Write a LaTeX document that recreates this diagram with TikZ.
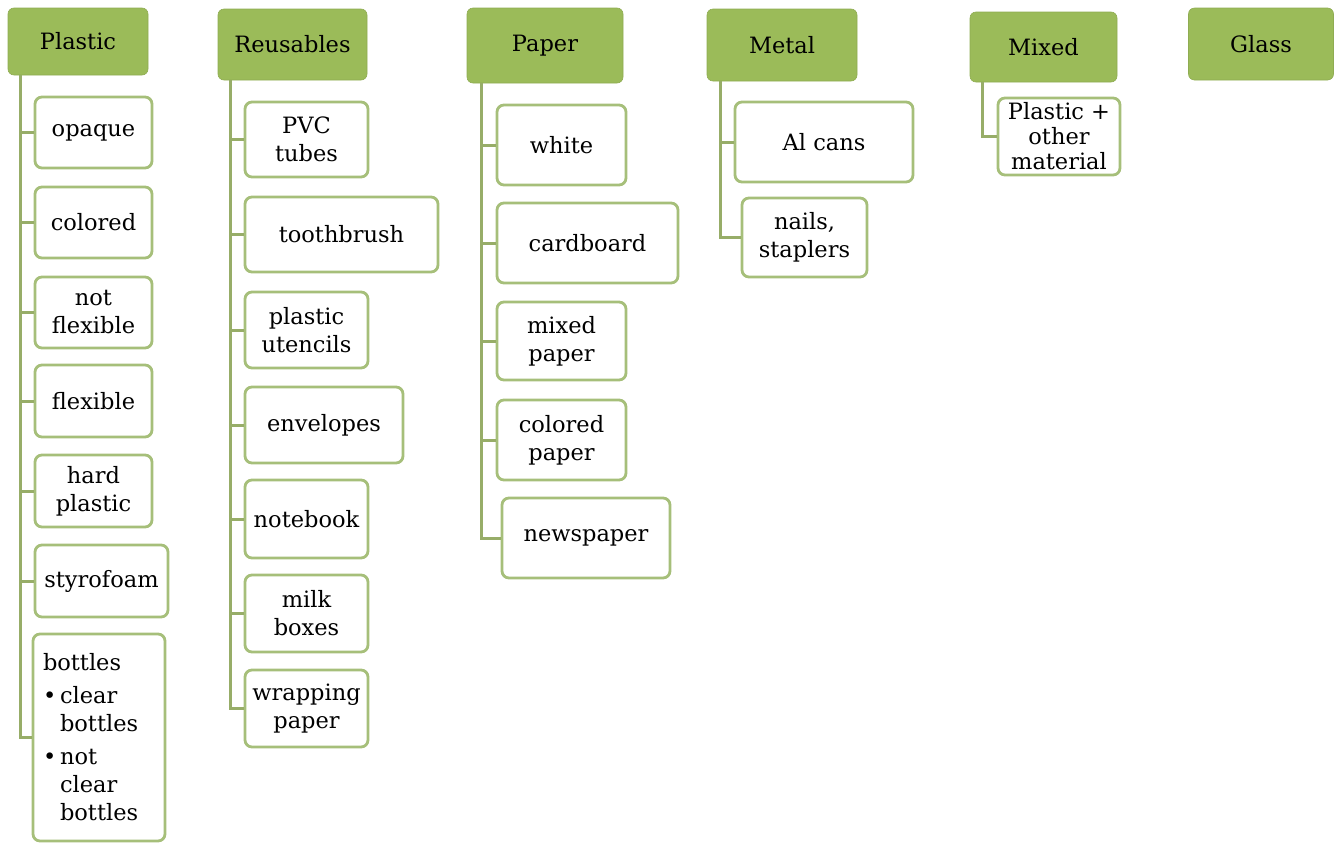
\documentclass[tikz,border=0pt]{standalone}
\usepackage{fontspec}
\setmainfont{DejaVu Serif}
\usepackage{tikz}
\usetikzlibrary{shapes,positioning}
\definecolor{hdrgreen}{HTML}{9BBB59}
\definecolor{boxline}{HTML}{A6BF7A}
\definecolor{linkgreen}{HTML}{97AD68}
\tikzstyle{category}=[fill=hdrgreen, draw=hdrgreen!92!black, line width=0.6pt, rounded corners=6pt, inner sep=0pt, align=center]
\tikzstyle{subitem}=[fill=white, draw=boxline, line width=2.8pt, rounded corners=7pt, inner sep=0pt, align=center]
\tikzstyle{link}=[draw=linkgreen, line width=3pt]

\begin{document}
\begin{tikzpicture}[x=1pt, y=-1pt, every node/.style={font=\fontsize{22.5}{28}\selectfont}]
    \useasboundingbox (0,0) rectangle (1336,844);
    % Place the category heads
    \node[category, minimum width=140, minimum height=67] (plastic) at (78,41.5) {Plastic};
    \node[category, minimum width=149, minimum height=71] (reuse) at (292.5,44.5) {Reusables};
    \node[category, minimum width=156, minimum height=75] (paper) at (545,45.5) {Paper};
    \node[category, minimum width=150, minimum height=72] (metal) at (782,45) {Metal};
    \node[category, minimum width=147, minimum height=70] (mixed) at (1043.5,47) {Mixed};
    \node[category, minimum width=145, minimum height=72] (glass) at (1261,44) {Glass};

    % Plastic
     \node[subitem, minimum width=117, minimum height=71] (opaque) at (93.5,132.5) {opaque};
     \node[subitem, minimum width=117, minimum height=71] (colored) at (93.5,222.5) {colored};
     \node[subitem, minimum width=117, minimum height=71] (notflex) at (93.5,312.5) {not\\flexible};
     \node[subitem, minimum width=117, minimum height=72] (flexible) at (93.5,401) {flexible};
     \node[subitem, minimum width=117, minimum height=72] (hardpl) at (93.5,491) {hard\\plastic};
     \node[subitem, minimum width=133, minimum height=72] (styro) at (101.5,581) {styrofoam};
     \node[subitem, minimum height=207, text width=112, inner xsep=10pt, align=left] (bottles) at (99,737.5)
       {bottles\\[5pt] \textbullet\,clear\\ \phantom{\textbullet\,}bottles\\[5pt] \textbullet\,not\\ \phantom{\textbullet\,}clear\\ \phantom{\textbullet\,}bottles};

    % Reusables
     \node[subitem, minimum width=123, minimum height=75] (pvc) at (306.5,139.5) {PVC\\tubes};
     \node[subitem, minimum width=193, minimum height=75] (brush) at (341.5,234.5) {toothbrush};
     \node[subitem, minimum width=123, minimum height=76] (utensil) at (306.5,330) {plastic\\utencils};
     \node[subitem, minimum width=158, minimum height=76] (envel) at (324,425) {envelopes};
     \node[subitem, minimum width=123, minimum height=78] (notebook) at (306.5,519) {notebook};
     \node[subitem, minimum width=123, minimum height=77] (milk) at (306.5,613.5) {milk\\boxes};
     \node[subitem, minimum width=123, minimum height=77] (wrap) at (306.5,708.5) {wrapping\\paper};

    % Paper
     \node[subitem, minimum width=129, minimum height=80] (white) at (561.5,145) {white};
     \node[subitem, minimum width=181, minimum height=80] (cardb) at (587.5,243) {cardboard};
     \node[subitem, minimum width=129, minimum height=78] (mixpap) at (561.5,341) {mixed\\paper};
     \node[subitem, minimum width=129, minimum height=80] (colpap) at (561.5,440) {colored\\paper};
     \node[subitem, minimum width=168, minimum height=80] (news) at (586,538) {newspaper};

    % Metal
     \node[subitem, minimum width=178, minimum height=80] (alcans) at (824,142) {Al cans};
     \node[subitem, minimum width=125, minimum height=79] (nails) at (804.5,237.5) {nails,\\staplers};

    % Mixed
     \node[subitem, minimum width=122, minimum height=77, font=\fontsize{22.5}{25}\selectfont] (plother) at (1059,136.5) {Plastic +\\other\\material};

    % connect heads and items
     \foreach \c in {opaque,colored,notflex,flexible,hardpl,styro,bottles}
       \path[link] ([xshift=13pt]plastic.south west) |- (\c.west);
     \foreach \c in {pvc,brush,utensil,envel,notebook,milk,wrap}
       \path[link] ([xshift=13pt]reuse.south west) |- (\c.west);
     \foreach \c in {white,cardb,mixpap,colpap,news}
       \path[link] ([xshift=15pt]paper.south west) |- (\c.west);
     \path[link] ([xshift=14pt]metal.south west) |- (alcans.west);
     \path[link] ([xshift=14pt]metal.south west) |- (nails.west);
     \path[link] ([xshift=13pt]mixed.south west) |- (plother.west);

  \end{tikzpicture}
\end{document}
